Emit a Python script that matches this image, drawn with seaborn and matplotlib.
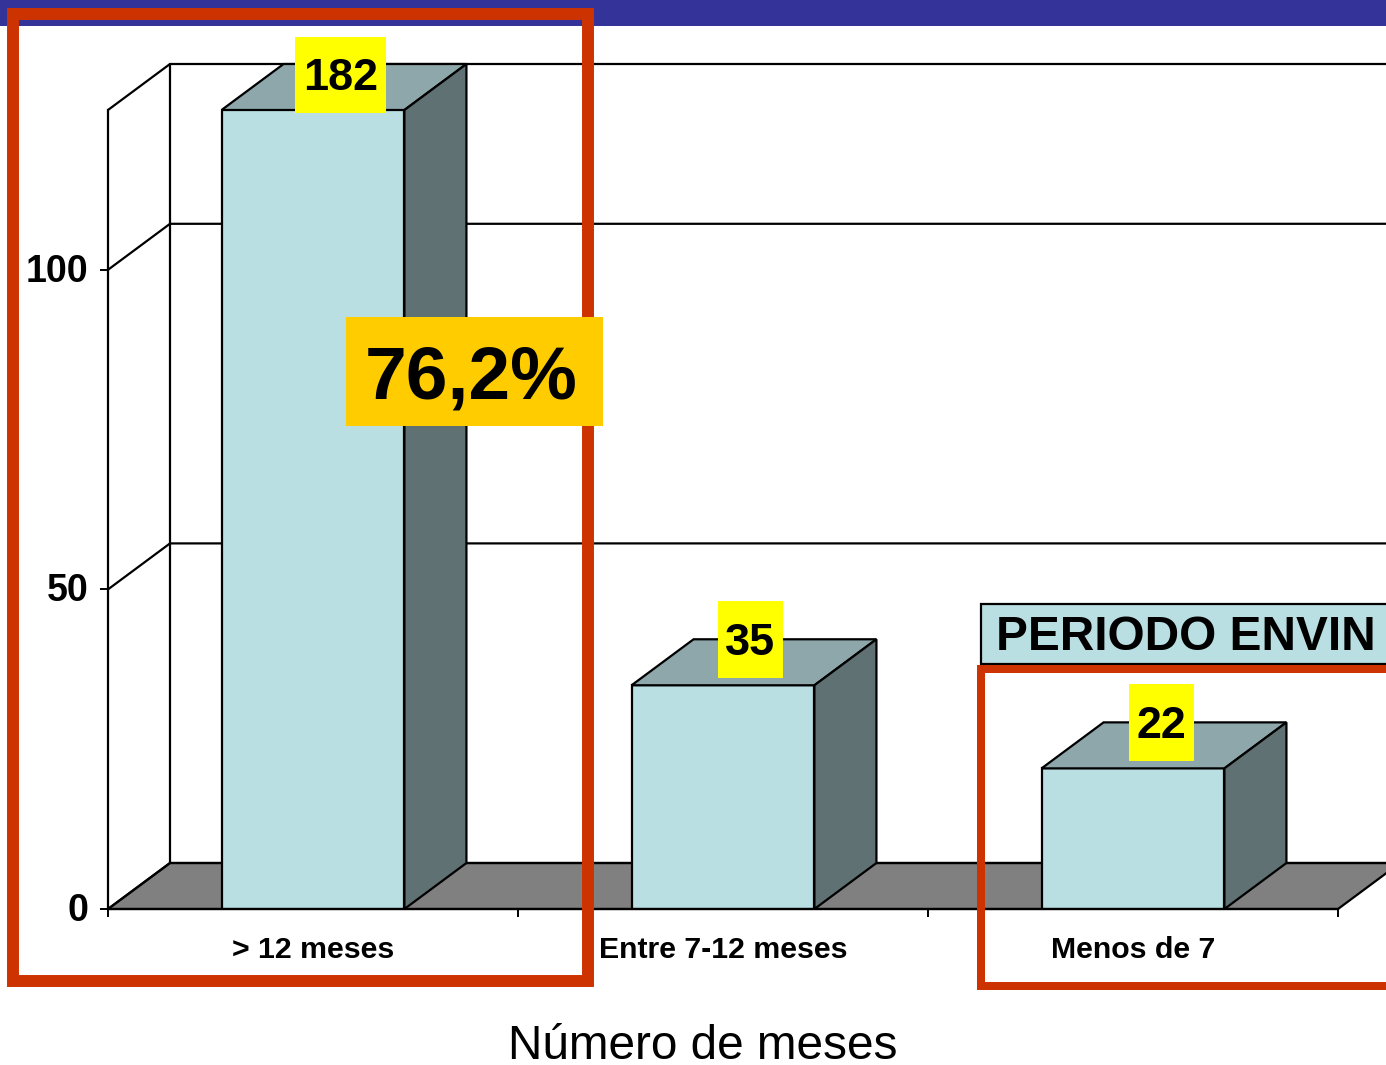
import pandas as pd
import matplotlib
matplotlib.use("Agg")
import matplotlib.pyplot as plt
from matplotlib.patches import Polygon, Rectangle
from matplotlib.transforms import ScaledTranslation
import seaborn as sns

categories = ["> 12 meses", "Entre 7-12 meses", "Menos de 7"]
values = [182, 35, 22]
y_ticks = [0, 50, 100]
y_max = 125

W, H = 1386, 1065
DX, DY = 62, 46

FRONT = "#B9DFE2"
TOP = "#8DA7AA"
SIDE = "#5F7173"
FLOOR = "#808080"
RED = "#CC3300"
NAVY = "#333399"

sns.set_theme(style="white")
plt.rcParams["font.family"] = ["Liberation Sans", "DejaVu Sans"]

fig = plt.figure(figsize=(W / 100, H / 100), dpi=100, facecolor="white")


def pixel_axes(zorder):
    a = fig.add_axes([0, 0, 1, 1], zorder=zorder)
    a.set_xlim(0, W)
    a.set_ylim(H, 0)
    a.axis("off")
    return a


# fondo: paredes y suelo
bg = pixel_axes(0)
bg.add_patch(Rectangle((0, 0), W, 25.5, fc=NAVY, ec="none"))

# grafico principal
left, right, bottom, top = 108, 1338, 909, 110
ax = fig.add_axes([left / W, 1 - bottom / H, (right - left) / W, (bottom - top) / H], zorder=1)
ax.patch.set_visible(False)

df = pd.DataFrame({"meses": categories, "n": values})
sns.barplot(data=df, x="meses", y="n", color=FRONT, saturation=1, width=0.446,
            edgecolor="black", linewidth=1.6, ax=ax)
ax.set_xlim(-0.5, 2.5)
ax.set_ylim(0, y_max)
ax.set_ylabel("")
ax.set_yticks(y_ticks)
ax.set_xticks([-0.5, 0.5, 1.5, 2.5])
ax.set_xticklabels([])
ax.set_xticks(range(len(categories)), labels=categories, minor=True)
ax.tick_params(axis="y", left=True, length=6, width=1.4, color="black", pad=8, labelsize=27)
ax.tick_params(axis="x", which="major", bottom=True, length=6, width=1.4, color="black")
ax.tick_params(axis="x", which="minor", bottom=False, length=0, pad=19.5, labelsize=21.8)
for lab in ax.get_yticklabels() + ax.get_xticklabels(minor=True):
    lab.set_fontweight("bold")
    lab.set_color("black")
# las cifras del eje quedan un poco mas arriba
nudge = ScaledTranslation(0, 1.5 / 72, fig.dpi_scale_trans)
for lab in ax.get_yticklabels():
    lab.set_transform(lab.get_transform() + nudge)
ax.set_xlabel("Número de meses", fontsize=34.4, color="black",
              x=(703 - left) / (right - left), labelpad=43)
ax.spines["top"].set_visible(False)
ax.spines["right"].set_visible(False)
for s in ["left", "bottom"]:
    ax.spines[s].set_color("black")
    ax.spines[s].set_linewidth(1.6)


def to_px(x, y):
    px, py = ax.transData.transform((x, y))
    return px, H - py


# suelo y pared del fondo
x0, y_base = to_px(-0.5, 0)
x1, _ = to_px(2.5, 0)
bg.add_patch(Polygon([(x0, y_base), (x1, y_base), (x1 + DX, y_base - DY), (x0 + DX, y_base - DY)],
                     fc=FLOOR, ec="black", lw=1.6))
for v in y_ticks + [y_max]:
    _, yy = to_px(-0.5, v)
    bg.plot([x0, x0 + DX, W + 20], [yy, yy - DY, yy - DY], color="black", lw=1.6)
_, y_top = to_px(-0.5, y_max)
bg.plot([x0 + DX, x0 + DX], [y_base - DY, y_top - DY], color="black", lw=1.6)

# caras laterales y superiores de las barras
front = pixel_axes(2)
for bar in ax.patches:
    h = min(bar.get_height(), y_max)
    xa, ya = to_px(bar.get_x(), h)
    xb, yb = to_px(bar.get_x() + bar.get_width(), 0)
    front.add_patch(Polygon([(xa, ya), (xb, ya), (xb + DX, ya - DY), (xa + DX, ya - DY)],
                            fc=TOP, ec="black", lw=1.6, zorder=1))
    front.add_patch(Polygon([(xb, ya), (xb, yb), (xb + DX, yb - DY), (xb + DX, ya - DY)],
                            fc=SIDE, ec="black", lw=1.6, zorder=1))

# recuadros rojos
front.add_patch(Rectangle((13, 14), 575, 967, fc="none", ec=RED, lw=8.6, joinstyle="miter", zorder=3))
for rx, ry, rw, rh in [(977, 665, 409, 8), (977, 665, 8, 325), (977, 982, 409, 8)]:
    front.add_patch(Rectangle((rx, ry), rw, rh, fc=RED, ec="none", zorder=3))

# etiquetas de valor
label_boxes = [(295, 37, 91, 76), (718, 601, 65, 77), (1129, 684, 65, 77)]
for val, (bx, by, bw, bh) in zip(values, label_boxes):
    front.add_patch(Rectangle((bx, by), bw, bh, fc="#FFFF00", ec="none", zorder=4))
    front.text(bx + bw / 2, by + bh / 2 + 4, str(val), fontsize=32.4, fontweight="bold",
               color="black", ha="center", va="center", zorder=5)

front.add_patch(Rectangle((346, 317), 257, 109, fc="#FFCC00", ec="none", zorder=4))
front.text(471, 379, "76,2%", fontsize=54, fontweight="bold", color="black",
           ha="center", va="center", zorder=5)

front.add_patch(Rectangle((981, 604), 440, 60, fc=FRONT, ec="black", lw=1.6, zorder=2))
front.text(1186, 638, "PERIODO ENVIN", fontsize=34.4, fontweight="bold", color="black",
           ha="center", va="center", zorder=5)

fig.savefig("out.png", dpi=100)
